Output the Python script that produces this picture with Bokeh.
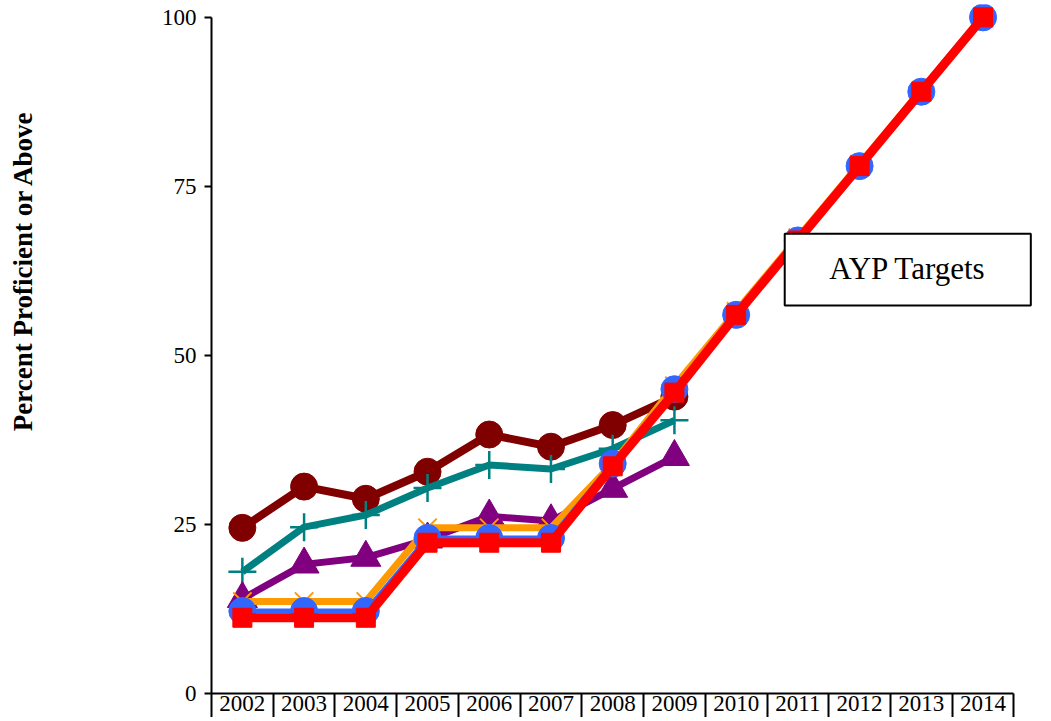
from bokeh.plotting import figure
from bokeh.models import FixedTicker, Range1d, BoxAnnotation, Label, Title
from bokeh.embed import file_html
from bokeh.resources import INLINE

# ---- data ----
years = ["2002", "2003", "2004", "2005", "2006", "2007", "2008",
         "2009", "2010", "2011", "2012", "2013", "2014"]
group_maroon = [24.5, 30.6, 28.8, 32.8, 38.3, 36.5, 39.7, 43.9]
group_teal = [18.0, 24.6, 26.4, 30.4, 33.8, 33.2, 36.2, 40.4]
group_purple = [14.0, 19.1, 20.1, 22.8, 26.2, 25.5, 30.3, 35.0]
target_orange = [13.6, 13.6, 13.6, 24.5, 24.5, 24.5, 34.0, 45.5, 56.5, 67.4, 78.3, 89.2, 100.0]
target_blue = [12.2, 12.2, 12.2, 23.0, 23.0, 23.0, 34.0, 45.0, 56.0, 67.0, 78.0, 89.0, 100.0]
target_red = [11.2, 11.2, 11.2, 22.3, 22.3, 22.3, 33.6, 44.5, 56.0, 67.0, 78.0, 89.0, 100.0]
y_ticks = [0, 25, 50, 75, 100]
y_title = "Percent Proficient or Above"
box_text = "AYP Targets"

xs = list(range(1, len(years) + 1))

SERIF = "Liberation Serif"

p = figure(output_backend="svg", toolbar_location=None,
           frame_width=824, frame_height=689,
           min_border_left=210, min_border_right=10,
           min_border_top=4, min_border_bottom=24,
           x_range=Range1d(0.5, 13.85), y_range=Range1d(0, 101.9),
           background_fill_color="white", border_fill_color="white")
p.outline_line_color = None
p.grid.visible = False

# series
def series(vals, color, lw, marker, size, fill=True, mlw=1.0):
    x = xs[:len(vals)]
    p.line(x, vals, line_color=color, line_width=lw, line_join="round")
    p.scatter(x, vals, marker=marker, size=size,
              fill_color=color if fill else None, line_color=color,
              line_width=mlw)

series(group_maroon, "#800000", 8, "circle", 27)
series(group_teal, "#008080", 7, "cross", 28, fill=False, mlw=2.5)
series(group_purple, "#800080", 7, "triangle", 30)
series(target_orange, "#FF9900", 7, "x", 26, fill=False, mlw=2)
series(target_blue, "#3366FF", 5, "circle", 27)
series(target_red, "#FF0000", 9, "square", 19)

# AYP box
box = BoxAnnotation(left=9.787, right=13.774, bottom=57.4, top=68.0,
                    fill_color="white", fill_alpha=1.0,
                    line_color="black", line_width=2, line_alpha=1.0)
p.add_layout(box)
p.add_layout(Label(x=11.78, y=62.8, text=box_text, text_align="center",
                   text_baseline="middle", text_font=SERIF,
                   text_font_size="31px", text_color="black"))

# y axis
ya = p.yaxis[0]
ya.ticker = FixedTicker(ticks=y_ticks)
ya.bounds = (0, 100)
ya.axis_line_width = 2
ya.axis_line_color = "black"
ya.major_tick_in = 0
ya.major_tick_out = 7
ya.major_tick_line_width = 2
ya.minor_tick_line_color = None
ya.major_label_text_font = SERIF
ya.major_label_text_font_size = "23px"
ya.major_label_text_color = "black"
ya.major_label_standoff = 8
ya.axis_label = " "
ya.axis_label_standoff = 98

# y title (left panel, aligned toward the top)
p.add_layout(Title(text=y_title, align="right", offset=106,
                   text_font=SERIF, text_font_size="27px",
                   text_font_style="bold", text_color="black"), "left")

# x axis: labels at centres, separators as minor ticks
xa = p.xaxis[0]
xa.ticker = FixedTicker(ticks=xs, minor_ticks=[i + 0.5 for i in range(0, len(years) + 1)])
xa.major_label_overrides = {x: y for x, y in zip(xs, years)}
xa.bounds = (0.5, len(years) + 0.5)
xa.axis_line_width = 2
xa.axis_line_color = "black"
xa.major_tick_in = 0
xa.major_tick_out = 0
xa.minor_tick_in = 0
xa.minor_tick_out = 26
xa.minor_tick_line_width = 2
xa.minor_tick_line_color = "black"
xa.major_label_text_font = SERIF
xa.major_label_text_font_size = "23px"
xa.major_label_text_color = "black"
xa.major_label_standoff = -24

open("out.html", "w").write(file_html(p, INLINE))
